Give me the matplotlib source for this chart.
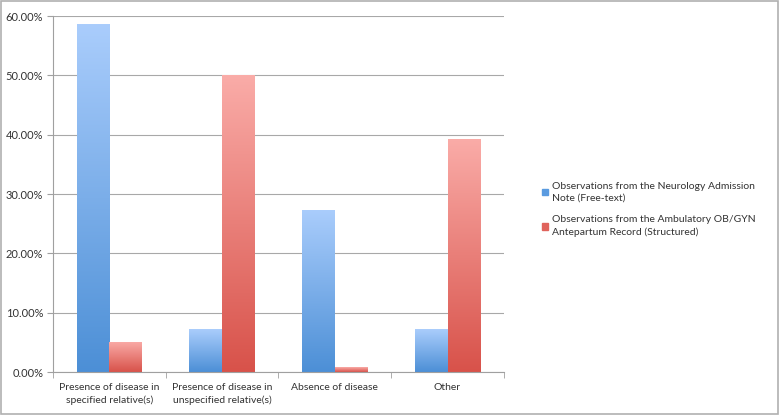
import matplotlib
matplotlib.use("Agg")
import matplotlib.pyplot as plt
import numpy as np
from matplotlib.colors import LinearSegmentedColormap
from matplotlib.patches import Rectangle

categories = ["Presence of disease in\nspecified relative(s)",
              "Presence of disease in\nunspecified relative(s)",
              "Absence of disease",
              "Other"]
series_names = ["Observations from the Neurology Admission\nNote (Free-text)",
                "Observations from the Ambulatory OB/GYN\nAntepartum Record (Structured)"]
neuro = [58.65, 7.2, 27.4, 7.2]
obgyn = [5.1, 50.0, 0.8, 39.3]
yticks = [0, 10, 20, 30, 40, 50, 60]

plt.rcParams['font.family'] = ['Lato', 'DejaVu Sans']

fig = plt.figure(figsize=(7.8, 4.15), dpi=100)
ax = fig.add_axes([0.068, 0.1036, 0.578, 0.8574])

x = np.arange(len(categories))
w = 0.29
b1 = ax.bar(x - w/2, neuro, w, color='#7fb0ea', label=series_names[0])
b2 = ax.bar(x + w/2, obgyn, w, color='#ee7f78', label=series_names[1])

cm_blue = LinearSegmentedColormap.from_list('b', ['#4c8fd6', '#aacdfc'])
cm_red = LinearSegmentedColormap.from_list('r', ['#d8524a', '#faaca8'])
grad = np.linspace(0, 1, 256).reshape(-1, 1)
for bars, cm in ((b1, cm_blue), (b2, cm_red)):
    for p in bars:
        x0, y0 = p.get_x(), p.get_y()
        ww, hh = p.get_width(), p.get_height()
        p.set_visible(False)
        im = ax.imshow(grad, cmap=cm, origin='lower', aspect='auto',
                       extent=(x0, x0 + ww, y0, y0 + hh), zorder=2)
        clip = Rectangle((x0, y0), ww, hh, transform=ax.transData)
        im.set_clip_path(clip)

ax.set_xlim(-0.5, len(categories) - 0.5)
ax.set_ylim(0, 60)
ax.set_yticks(yticks)
ax.set_yticklabels([f"{v:.2f}%" for v in yticks], fontsize=8, color='#333333')
ax.yaxis.grid(True, color='#a8a8a8', linewidth=0.8, zorder=0)
ax.set_axisbelow(True)
ax.tick_params(axis='y', length=4, color='#a0a0a0', direction='out', pad=3)

ax.set_xticks(x)
ax.set_xticklabels(categories, fontsize=7.5, color='#333333', linespacing=1.4)
ax.tick_params(axis='x', length=0, pad=8)
ax.set_xticks(np.arange(-0.5, len(categories)), minor=True)
ax.tick_params(axis='x', which='minor', length=4, color='#a0a0a0')

for s in ('top', 'right'):
    ax.spines[s].set_visible(False)
for s in ('left', 'bottom'):
    ax.spines[s].set_color('#a0a0a0')

handles = [Rectangle((0, 0), 1, 1, color='#5a9be0'), Rectangle((0, 0), 1, 1, color='#e0635c')]
leg = fig.legend(handles, series_names, loc='center left', bbox_to_anchor=(0.683, 0.495),
                 frameon=False, fontsize=7.5, handlelength=0.6, handleheight=0.6,
                 handletextpad=0.35, labelspacing=1.2, labelcolor='#333333')
for t in leg.get_texts():
    t.set_linespacing(1.45)

fig.add_artist(Rectangle((0.001, 0.002), 0.997, 0.995, transform=fig.transFigure,
                         fill=False, edgecolor='#b0b0b0', linewidth=1.2))

fig.savefig("out.png", dpi=100)
